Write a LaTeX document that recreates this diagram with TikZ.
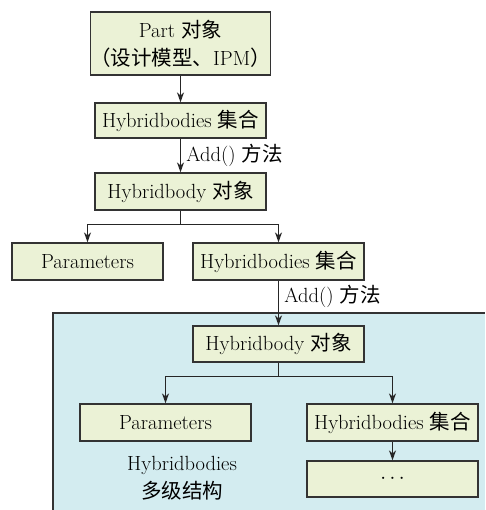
\documentclass[tikz,border=0pt]{standalone}
\usepackage{fontspec}
\newfontfamily\cjk{Noto Sans CJK SC}
\newcommand\zh[1]{{\cjk #1}}
\usepackage{tikz}
\usetikzlibrary{arrows.meta,positioning}
\definecolor{boxgreen}{HTML}{EBF2D6}
\definecolor{areablue}{HTML}{D3ECF0}

\begin{document}
\begin{tikzpicture}[x=1pt, y=-1pt,
		font=\rmfamily\fontsize{20.5}{28}\selectfont,
		objbox/.style={draw=black!80, fill=boxgreen, line width=1.3pt, inner sep=0pt, align=center, minimum height=36pt},
		link/.style={-{Stealth[length=10pt,width=7pt]}, line width=1.3pt, draw=black!85}]
		\useasboundingbox (0,0) rectangle (485,510);
		% area of the multi-level structure
		\fill[areablue] (53,313) rectangle (485,510);
		\draw[line width=1.3pt, black!80] (53,510) -- (53,313) -- (485,313);
		
		\node[objbox, minimum width=171pt, minimum height=63pt] (part) at (180.5,43.5) {Part \zh{对象}\\\zh{（设计模型、}IPM\zh{）}};
		\node[objbox, minimum width=171pt, minimum height=35pt] (hbs1) at (180.5,120.5) {Hybridbodies \zh{集合}};
		\node[objbox, minimum width=171pt, minimum height=37pt] (hb1) at (180.5,191.5) {Hybridbody \zh{对象}};
		\node[objbox, minimum width=151pt, minimum height=37pt] (par1) at (87.5,261.5) {Parameters};
		\node[objbox, minimum width=171pt, minimum height=37pt] (hbs2) at (278.5,261.5) {Hybridbodies \zh{集合}};
		\node[objbox, minimum width=171pt, minimum height=36pt] (hb2) at (278.5,344) {Hybridbody \zh{对象}};
		\node[objbox, minimum width=171pt, minimum height=37pt] (par2) at (165.5,422.5) {Parameters};
		\node[objbox, minimum width=171pt, minimum height=37pt] (hbs3) at (392.5,422.5) {Hybridbodies \zh{集合}};
		\node[objbox, minimum width=171pt, minimum height=36pt] (more) at (392.5,479) {$\cdots$};
		\node[align=center] (multi) at (182,478) {Hybridbodies\\\zh{多级结构}};
		
		\path[link]
		(part) edge (hbs1)
		(hbs1) edge node [right, xshift=2pt] {Add() \zh{方法}} (hb1)
		(hbs2) edge node [right, xshift=2pt, pos=0.35] {Add() \zh{方法}} (hb2)
		(hbs3) edge (more)
		;
		\draw[link] (hb1.south) -- ++(0,14) -| (par1.north);
		\draw[link] (hb1.south) -- ++(0,14) -| (hbs2.north);
		\draw[link] (hb2.south) -- ++(0,14) -| (par2.north);
		\draw[link] (hb2.south) -- ++(0,14) -| (hbs3.north);
	\end{tikzpicture}
\end{document}
